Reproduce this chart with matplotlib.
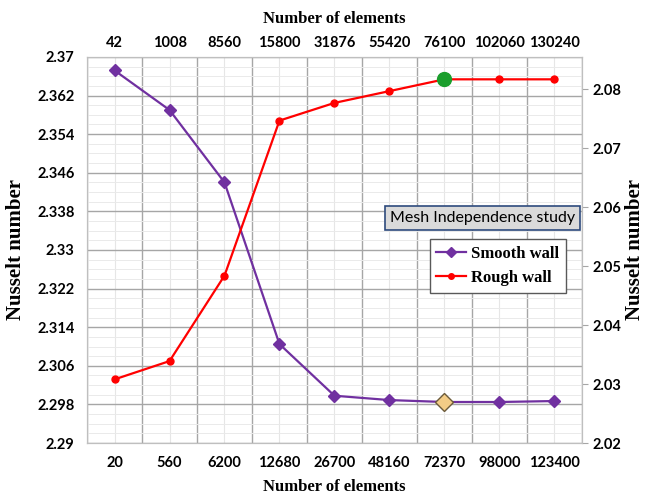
import numpy as np
import matplotlib
matplotlib.use("Agg")
import matplotlib.pyplot as plt
from matplotlib.lines import Line2D
from matplotlib.ticker import MultipleLocator

# Données
bottom_labels = ["20", "560", "6200", "12680", "26700", "48160", "72370", "98000", "123400"]
top_labels = ["42", "1008", "8560", "15800", "31876", "55420", "76100", "102060", "130240"]
smooth = [2.3672, 2.3590, 2.3440, 2.3105, 2.2998, 2.2989, 2.2985, 2.2985, 2.2987]
rough = [2.0308, 2.0339, 2.0484, 2.0747, 2.0777, 2.0797, 2.0817, 2.0817, 2.0817]
sel = 6   # maillage retenu

purple = "#7030A0"
red = "#FF0000"
tick_font = "Lato"
serif = "Liberation Serif"

fig = plt.figure(figsize=(6.45, 4.95), dpi=100)
ax = fig.add_axes([0.135, 0.105, 0.767, 0.78])
x = np.arange(len(smooth))

# grille
ax.set_xlim(-0.5, len(smooth) - 0.5)
ax.set_ylim(2.29, 2.37)
ax.set_yticks(np.arange(2.29, 2.3701, 0.008))
ax.set_yticklabels(["2.29", "2.298", "2.306", "2.314", "2.322", "2.33",
                    "2.338", "2.346", "2.354", "2.362", "2.37"])
ax.yaxis.set_minor_locator(MultipleLocator(0.002))
ax.set_xticks(x)
ax.set_xticks(np.arange(-0.5, len(smooth), 1.0), minor=True)
ax.set_xticklabels(bottom_labels)
ax.grid(True, which="minor", axis="x", color="#A6A6A6", lw=1.0)
ax.grid(True, which="major", axis="x", color="#E6E6E6", lw=0.8)
ax.grid(True, which="major", axis="y", color="#A6A6A6", lw=1.0)
ax.grid(True, which="minor", axis="y", color="#EAEAEA", lw=0.7)
ax.set_axisbelow(True)
ax.tick_params(which="both", length=0, pad=9)
for s in ax.spines.values():
    s.set_color("#BFBFBF")

ax.plot(x, smooth, "-D", color=purple, lw=1.6, ms=6, zorder=3)
ax.plot(x[sel], smooth[sel], "D", color="#F3CC86", mec="#6B5A3A", ms=9, zorder=4)

ax2 = ax.twinx()
ax2.set_ylim(2.02, 2.0855)
ax2.set_yticks(np.arange(2.02, 2.0801, 0.01))
ax2.set_yticklabels(["2.02", "2.03", "2.04", "2.05", "2.06", "2.07", "2.08"])
ax2.tick_params(axis="y", length=4, color="#A6A6A6", pad=4)
for s in ax2.spines.values():
    s.set_color("#BFBFBF")
ax2.plot(x, rough, "-o", color=red, lw=1.6, ms=5, zorder=3)
ax2.plot(x[sel], rough[sel], "o", color="#1A9E2C", ms=10, zorder=4)

top = ax.secondary_xaxis("top")
top.set_xticks(x)
top.set_xticklabels(top_labels)
top.tick_params(length=0, pad=5)
top.spines["top"].set_visible(False)

for a in (ax, ax2, top):
    for lab in a.get_xticklabels() + a.get_yticklabels():
        lab.set_fontfamily(tick_font)
        lab.set_fontweight("bold")
        lab.set_fontsize(10.5)

ax.set_xlabel("Number of elements", family=serif, weight="bold", fontsize=12, labelpad=7)
top.set_xlabel("Number of elements", family=serif, weight="bold", fontsize=12, labelpad=9)
ax.set_ylabel("Nusselt number", family=serif, weight="bold", fontsize=15, labelpad=8)
ax2.set_ylabel("Nusselt number", family=serif, weight="bold", fontsize=15, labelpad=2)

ax.text(0.80, 0.583, "Mesh Independence study", transform=ax.transAxes,
        ha="center", va="center", family=tick_font, fontsize=11.5, zorder=6,
        bbox=dict(boxstyle="square,pad=0.3", fc="#DADADA", ec="#2E4A7D", lw=1.2))

handles = [Line2D([], [], color=purple, marker="D", ms=5, lw=1.6),
           Line2D([], [], color=red, marker="o", ms=4, lw=1.6)]
leg = ax2.legend(handles, ["Smooth wall", "Rough wall"], loc="upper right",
                 bbox_to_anchor=(0.968, 0.528), borderaxespad=0, fancybox=False,
                 framealpha=1, edgecolor="#595959", handlelength=1.8, handletextpad=0.3,
                 prop=dict(family=serif, weight="bold", size=12))
leg.get_frame().set_linewidth(1.0)
leg.set_zorder(6)

fig.savefig("out.png", dpi=100)
